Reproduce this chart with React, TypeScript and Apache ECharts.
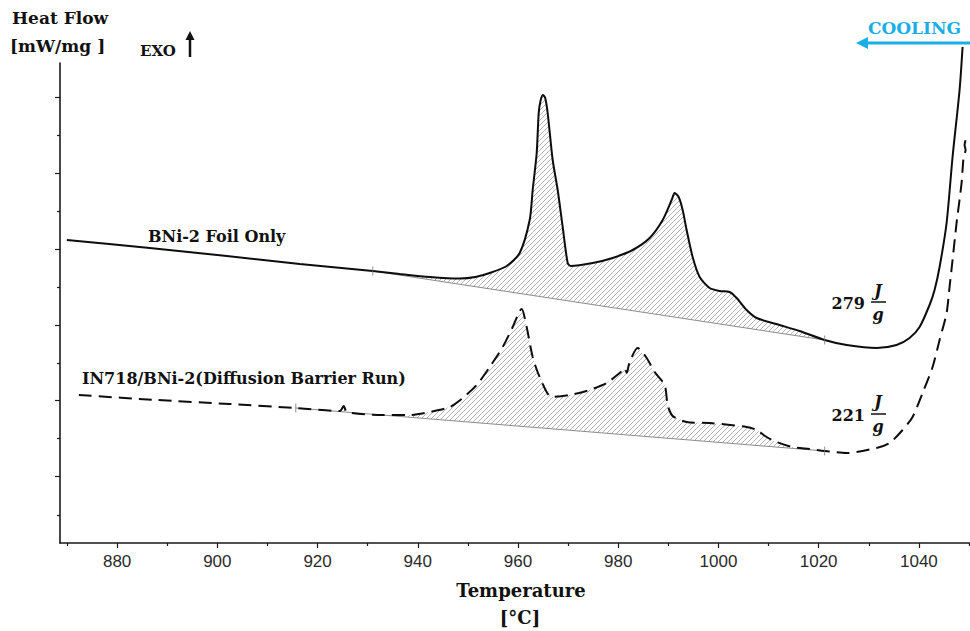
import React, { useEffect, useRef } from "react";
import * as echarts from "echarts";

// Axis ticks (temperature in °C, heat flow in arbitrary mW/mg units – the original axis is unlabeled)
const xMajorTicks = [880, 900, 920, 940, 960, 980, 1000, 1020, 1040];
const xMinorTicks = [870, 890, 910, 930, 950, 970, 990, 1010, 1030, 1050];
const yMajorTicks = [0.67, 1.43, 2.18, 2.94, 3.7, 4.46];
const yMinorTicks = [0.28, 1.05, 1.8, 2.56, 3.32, 4.08];

// BNi-2 Foil Only (solid)
const foilTemp = [
  869.97, 886.52, 901.89, 916.45, 931.01, 936.4, 942.38, 948.37, 951.5, 954.35, 957.75,
  960.34, 962.33, 962.93, 963.73, 964.13, 964.53, 964.99, 965.43, 965.92, 966.92,
  967.92, 968.92, 969.91, 970.51, 974.9, 978.89, 982.88, 986.27, 988.87, 990.66,
  991.26, 992.06, 992.86, 993.65, 994.85, 996.25, 998.24, 1000.24, 1002.23, 1003.63,
  1005.63, 1007.62, 1012.21, 1016.2, 1021.19, 1025.58, 1031.56, 1035.55, 1038.14, 1040.14,
  1042.13, 1043.13, 1044.13, 1045.53, 1046.72, 1048.12, 1048.72,
];
const foilHeat = [
  3.03, 2.95, 2.87, 2.79, 2.72, 2.69, 2.66, 2.645, 2.66, 2.7, 2.77,
  2.9, 3.23, 3.53, 3.9, 4.3, 4.43, 4.48, 4.45, 4.3, 3.83,
  3.53, 3.16, 2.8, 2.77, 2.8, 2.85, 2.93, 3.05, 3.23, 3.43,
  3.5, 3.46, 3.33, 3.13, 2.86, 2.66, 2.55, 2.52, 2.51, 2.45,
  2.33, 2.25, 2.18, 2.12, 2.03, 1.98, 1.95, 1.98, 2.05, 2.16,
  2.38, 2.53, 2.76, 3.2, 3.86, 4.53, 4.96,
];
const foilBaseTemp = [931.01, 1021.19];
const foilBaseHeat = [2.72, 2.03];

// IN718/BNi-2 (Diffusion Barrier Run) (dashed)
const barrierTemp = [
  872.36, 887.92, 902.48, 915.65, 924.43, 925.23, 925.83, 933.01, 938.39, 942.38,
  946.37, 948.97, 951.76, 954.35, 956.95, 958.94, 960.34, 960.74, 961.73, 962.93,
  964.33, 966.72, 970.31, 974.3, 977.7, 980.29, 981.29, 981.69, 982.28, 983.88,
  985.68, 987.27, 989.27, 989.87, 990.86, 993.65, 998.24, 1005.63, 1007.62, 1009.62,
  1011.61, 1014.8, 1018.19, 1021.19, 1025.58, 1031.56, 1034.15, 1036.75, 1038.74, 1040.74,
  1042.73, 1044.13, 1045.53, 1046.12, 1046.72, 1047.52, 1048.52, 1048.92, 1049.32, 1049.12,
  1049.52,
];
const barrierHeat = [
  1.48, 1.43, 1.39, 1.35, 1.32, 1.37, 1.31, 1.28, 1.28, 1.31,
  1.36, 1.45, 1.58, 1.76, 1.96, 2.16, 2.32, 2.34, 2.16, 1.86,
  1.66, 1.46, 1.48, 1.53, 1.6, 1.7, 1.75, 1.7, 1.81, 1.95,
  1.85, 1.71, 1.58, 1.38, 1.27, 1.21, 1.2, 1.16, 1.13, 1.06,
  1.01, 0.96, 0.94, 0.92, 0.9, 0.95, 1.0, 1.13, 1.26, 1.5,
  1.76, 2.03, 2.3, 2.56, 2.83, 3.2, 3.6, 3.86, 3.93, 3.98,
  4.06,
];
const barrierBaseTemp = [915.65, 1021.19];
const barrierBaseHeat = [1.35, 0.92];

const enthalpyLabels = ["279", "221"];

function zip(a: number[], b: number[]) {
  return a.map((v, i) => [v, b[i]]);
}

function makeHatch() {
  const c = document.createElement("canvas");
  c.width = 5;
  c.height = 5;
  const ctx = c.getContext("2d")!;
  ctx.strokeStyle = "#a0a0a0";
  ctx.lineWidth = 0.8;
  ctx.beginPath();
  ctx.moveTo(-1, 6);
  ctx.lineTo(6, -1);
  ctx.moveTo(-1, 1);
  ctx.lineTo(1, -1);
  ctx.moveTo(4, 6);
  ctx.lineTo(6, 4);
  ctx.stroke();
  return { image: c, repeat: "repeat", imageWidth: 5, imageHeight: 5 };
}

function peakRegion(temp: number[], heat: number[], t0: number, t1: number) {
  const pts: number[][] = [];
  temp.forEach((t, i) => {
    if (t >= t0 - 1e-6 && t <= t1 + 1e-6) pts.push([t, heat[i]]);
  });
  return pts;
}

export default function App() {
  const ref = useRef<HTMLDivElement>(null);
  useEffect(() => {
    if (!ref.current) return;
    const chart = echarts.init(ref.current, null, { renderer: "svg" });
    const hatch = makeHatch();
    const foilPeak = peakRegion(foilTemp, foilHeat, foilBaseTemp[0], foilBaseTemp[1]);
    const barrierPeak = peakRegion(barrierTemp, barrierHeat, barrierBaseTemp[0], barrierBaseTemp[1]);
    const serif = '"DejaVu Serif", serif';
    const xMin = 868.6;
    const xMax = 1050.2;
    const yMin = 0;
    const yMax = 4.8;

    const hatchSeries = (pts: number[][]) => ({
      type: "custom",
      xAxisIndex: 0,
      yAxisIndex: 0,
      silent: true,
      z: 1,
      data: [[pts[0][0], pts[0][1]]],
      renderItem: (_p: any, api: any) => ({
        type: "polygon",
        shape: { points: pts.map((p) => api.coord(p)) },
        style: { fill: hatch, stroke: null },
      }),
    });

    const txt = (text: string, x: number, y: number, font: string, align = "left", fill = "#111") => ({
      type: "text",
      x,
      y,
      silent: true,
      style: { text, font, fill, textAlign: align, textVerticalAlign: "middle" },
    });

    chart.setOption({
      animation: false,
      backgroundColor: "#ffffff",
      grid: { left: 60, right: 0, top: 63, bottom: 88, containLabel: false, outerBoundsMode: "none" },
      xAxis: [
        {
          type: "value",
          min: xMin,
          max: xMax,
          axisLine: { show: true, onZero: false, lineStyle: { color: "#1a1a1a", width: 1.6 } },
          axisTick: { show: true, length: 5, customValues: xMajorTicks, lineStyle: { color: "#1a1a1a", width: 1.2 } },
          axisLabel: {
            show: true,
            customValues: xMajorTicks,
            formatter: (v: number) => String(Math.round(v)),
            margin: 10,
            color: "#2a2a2a",
            fontSize: 17,
            fontFamily: '"Liberation Sans", Arial, sans-serif',
          },
          splitLine: { show: false },
        },
        {
          type: "value",
          min: xMin,
          max: xMax,
          position: "bottom",
          axisLine: { show: false },
          axisTick: { show: true, length: 3, customValues: xMinorTicks, lineStyle: { color: "#1a1a1a", width: 1.2 } },
          axisLabel: { show: false },
          splitLine: { show: false },
        },
      ],
      yAxis: [
        {
          type: "value",
          min: yMin,
          max: yMax,
          axisLine: { show: true, onZero: false, lineStyle: { color: "#1a1a1a", width: 1.6 } },
          axisTick: { show: true, length: 5, customValues: yMajorTicks, lineStyle: { color: "#1a1a1a", width: 1.2 } },
          axisLabel: { show: false },
          splitLine: { show: false },
        },
        {
          type: "value",
          min: yMin,
          max: yMax,
          position: "left",
          axisLine: { show: false },
          axisTick: { show: true, length: 3, customValues: yMinorTicks, lineStyle: { color: "#1a1a1a", width: 1.2 } },
          axisLabel: { show: false },
          splitLine: { show: false },
        },
      ],
      series: [
        hatchSeries(foilPeak),
        hatchSeries(barrierPeak),
        {
          type: "line",
          name: "foil baseline",
          data: zip(foilBaseTemp, foilBaseHeat),
          symbol: "none",
          lineStyle: { color: "#8c8c8c", width: 1 },
          z: 2,
        },
        {
          type: "line",
          name: "barrier baseline",
          data: zip(barrierBaseTemp, barrierBaseHeat),
          symbol: "none",
          lineStyle: { color: "#8c8c8c", width: 1 },
          z: 2,
        },
        {
          type: "scatter",
          name: "integration limits",
          data: [...zip(foilBaseTemp, foilBaseHeat), ...zip(barrierBaseTemp, barrierBaseHeat)],
          symbol: "rect",
          symbolSize: [1, 9],
          itemStyle: { color: "#777" },
          z: 4,
        },
        {
          type: "line",
          name: "BNi-2 Foil Only",
          data: zip(foilTemp, foilHeat),
          symbol: "none",
          smooth: 0.25,
          clip: false,
          lineStyle: { color: "#0d0d0d", width: 2 },
          z: 3,
        },
        {
          type: "line",
          name: "IN718/BNi-2(Diffusion Barrier Run)",
          data: zip(barrierTemp, barrierHeat),
          symbol: "none",
          smooth: 0.25,
          clip: false,
          lineStyle: { color: "#0d0d0d", width: 2, type: [13, 7] },
          z: 3,
        },
      ],
      graphic: [
        txt("Heat Flow", 12, 18, `bold 17px ${serif}`),
        txt("[mW/mg ]", 10, 46, `bold 17px ${serif}`),
        txt("EXO", 140, 51, `bold 15px ${serif}`),
        { type: "line", silent: true, shape: { x1: 190, y1: 57, x2: 190, y2: 39 }, style: { stroke: "#111", lineWidth: 2.5 } },
        { type: "polygon", silent: true, shape: { points: [[190, 31], [185.5, 40], [194.5, 40]] }, style: { fill: "#111" } },
        txt("COOLING", 961, 28, `bold 17px ${serif}`, "right", "#19aee6"),
        { type: "line", silent: true, shape: { x1: 970, y1: 43, x2: 866, y2: 43 }, style: { stroke: "#19aee6", lineWidth: 3 } },
        { type: "polygon", silent: true, shape: { points: [[856, 43], [868, 37], [868, 49]] }, style: { fill: "#19aee6" } },
        txt("BNi-2 Foil Only", 148, 236, `bold 16px ${serif}`),
        txt("IN718/BNi-2(Diffusion Barrier Run)", 82, 378, `bold 16px ${serif}`),
        txt(enthalpyLabels[0], 865, 303, `bold 16px ${serif}`, "right"),
        txt("J", 878, 290, `italic bold 16px ${serif}`, "center"),
        { type: "line", silent: true, shape: { x1: 871, y1: 302, x2: 886, y2: 302 }, style: { stroke: "#111", lineWidth: 1.5 } },
        txt("g", 878, 314, `italic bold 16px ${serif}`, "center"),
        txt(enthalpyLabels[1], 865, 415, `bold 16px ${serif}`, "right"),
        txt("J", 878, 401, `italic bold 16px ${serif}`, "center"),
        { type: "line", silent: true, shape: { x1: 871, y1: 414, x2: 886, y2: 414 }, style: { stroke: "#111", lineWidth: 1.5 } },
        txt("g", 878, 426, `italic bold 16px ${serif}`, "center"),
        txt("Temperature", 521, 590, `bold 18px ${serif}`, "center"),
        txt("[°C]", 520, 617, `bold 18px ${serif}`, "center"),
      ],
    });
    return () => chart.dispose();
  }, []);
  return <div ref={ref} style={{ position: "fixed", left: 0, top: 0, width: 970, height: 631 }} />;
}
